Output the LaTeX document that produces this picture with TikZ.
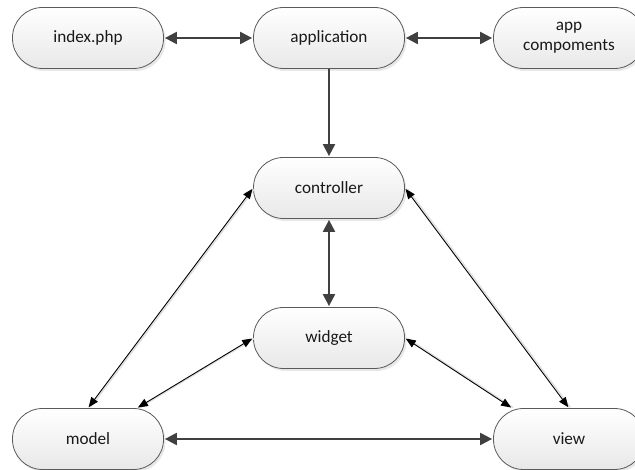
\documentclass[tikz,border=0pt]{standalone}
\usepackage{fontspec}
\setmainfont{Carlito}
\usetikzlibrary{arrows.meta,shadows}
\definecolor{linegray}{HTML}{404040}
\definecolor{boxedge}{HTML}{5A5A5A}
\tikzset{
  pill/.style={draw=boxedge, line width=0.8pt, rounded corners=30pt,
    minimum width=151pt, minimum height=61pt, align=center,
    top color=white, bottom color=black!9,
    font=\fontsize{17.2}{20}\selectfont, text=black!90,
    drop shadow={shadow xshift=2pt, shadow yshift=-2.5pt, opacity=0.18}},
  thick link/.style={draw=linegray, line width=2.2pt,
    {Triangle[length=12pt,width=12pt]}-{Triangle[length=12pt,width=12pt]}, shorten <=1pt, shorten >=1pt},
  thick one/.style={draw=linegray, line width=2.2pt,
    -{Triangle[length=12pt,width=12pt]}, shorten >=1pt},
  thin link/.style={draw=black, line width=0.9pt,
    {Triangle[length=10pt,width=8pt]}-{Triangle[length=10pt,width=8pt]}, shorten <=1pt, shorten >=1pt,
    preaction={draw=black!12, line width=1.4pt, -, transform canvas={xshift=2pt}}}
}
\begin{document}
\begin{tikzpicture}[x=1pt, y=-1pt]
  \useasboundingbox (0,0) rectangle (635,470);
  % top row
  \node[pill] (index) at (88,38) {index.php};
  \node[pill] (app) at (329,38) {application};
  \node[pill] (comp) at (569,38) {app\\compoments};
  % middle column
  \node[pill] (ctrl) at (329,188) {controller};
  \node[pill] (widget) at (329,338) {widget};
  % bottom row
  \node[pill] (model) at (88,439) {model};
  \node[pill] (view) at (569,439) {view};

  \coordinate (modelNE) at ([xshift=49pt]model.north);
  \coordinate (viewNW) at ([xshift=-57pt]view.north);

  % connectors
  \draw[thick link] (index) -- (app);
  \draw[thick link] (app) -- (comp);
  \draw[thick one] (app) -- (ctrl);
  \draw[thick link] (ctrl) -- (widget);
  \draw[thick link] (model) -- (view);
  \draw[thin link] (ctrl.west) -- (model.north);
  \draw[thin link] (widget.west) -- (modelNE);
  \draw[thin link] (ctrl.east) -- (view.north);
  \draw[thin link] (widget.east) -- (viewNW);
\end{tikzpicture}
\end{document}
